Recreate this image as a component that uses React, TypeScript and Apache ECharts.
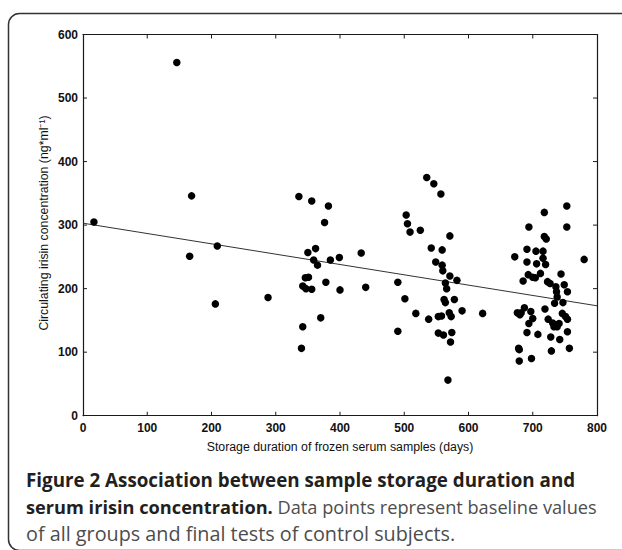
import React, { useEffect, useRef } from "react";
import * as echarts from "echarts";

// Storage duration (days) vs circulating irisin (ng*ml^-1)
const earlySamples: [number, number][] = [
  [17, 305], [146, 556], [166, 251], [169, 346], [206, 176], [209, 267], [288, 186],
];

const midSamples: [number, number][] = [
  [336, 345], [340, 106], [342, 140], [342, 204], [346, 217], [347, 200], [350, 257],
  [351, 218], [356, 338], [356, 199], [359, 245], [362, 263], [365, 237], [370, 154],
  [376, 304], [378, 210], [382, 330], [385, 245], [399, 249], [400, 198], [433, 256],
  [440, 202],
];

const lateSamples: [number, number][] = [
  [490, 210], [490, 133], [501, 184], [503, 316], [505, 302], [509, 289], [518, 161],
  [525, 292], [535, 375], [538, 152], [542, 264], [546, 365], [549, 242], [553, 156],
  [553, 130], [557, 349], [558, 157], [559, 261], [559, 237], [560, 228], [561, 127],
  [562, 183], [564, 209], [564, 178], [566, 200], [568, 56], [570, 162], [571, 283],
  [571, 220], [572, 116], [573, 156], [574, 131], [578, 183], [582, 213], [590, 165],
  [622, 161],
];

const finalSamples: [number, number][] = [
  [672, 250], [676, 162], [678, 106], [679, 86], [679, 104], [680, 159], [682, 162],
  [685, 212], [687, 170], [691, 262], [691, 242], [691, 131], [693, 222], [694, 297],
  [694, 145], [697, 164], [698, 90], [700, 218], [700, 153], [704, 217], [705, 259],
  [706, 239], [708, 128], [712, 224], [716, 259], [716, 248], [718, 320], [718, 282],
  [719, 168], [720, 238], [721, 278], [723, 211], [724, 152], [727, 208], [728, 124],
  [729, 102], [731, 146], [733, 140], [734, 177], [736, 203], [736, 143], [737, 195],
  [738, 187], [738, 140], [741, 145], [742, 120], [744, 223], [746, 161], [747, 178],
  [749, 206], [751, 156], [753, 330], [753, 297], [754, 195], [754, 152], [754, 132],
  [757, 106], [780, 246],
];

const regressionLine: [number, number][] = [
  [0, 303],
  [800, 173],
];

const xRange = [0, 800];
const yRange = [0, 600];
const xStep = 100;
const yStep = 100;
const xInnerTicks = [100, 200, 300, 400, 500, 600, 700];
const yInnerTicks = [100, 200, 300, 400, 500];

const xTitle = "Storage duration of frozen serum samples (days)";
const yTitle = "Circulating irisin concentration (ng*ml\u207B\u00B9)";
const captionBold1 = "Figure 2 Association between sample storage duration and";
const captionBold2 = "serum irisin concentration.";
const captionRegular2 = "Data points represent baseline values";
const captionRegular3 = "of all groups and final tests of control subjects.";

const AXIS_FONT = '"Liberation Sans", Arial, sans-serif';
const CAPTION_FONT = '"Open Sans", "Noto Sans", sans-serif';

export default function App() {
  const ref = useRef<HTMLDivElement | null>(null);

  useEffect(() => {
    if (!ref.current) return;
    const chart = echarts.init(ref.current, undefined, { renderer: "svg" });
    const allPoints = [...earlySamples, ...midSamples, ...lateSamples, ...finalSamples];

    const makeAxis = () => ({
      type: "value" as const,
      axisLine: { show: true, onZero: false, lineStyle: { color: "#1a1a1a", width: 1.2 } },
      axisTick: { show: false },
      splitLine: { show: false },
    });

    const tickSeries = (data: [number, number][], size: number[], offset: number[]) => ({
      type: "scatter",
      xAxisIndex: 0,
      yAxisIndex: 0,
      data,
      symbol: "rect",
      symbolSize: size,
      symbolOffset: offset,
      itemStyle: { color: "#1a1a1a", opacity: 1 },
      silent: true,
      clip: false,
      z: 4,
    });

    chart.setOption({
      animation: false,
      backgroundColor: "#fff",
      grid: { left: 83, right: 25, top: 34.5, bottom: 134.3, containLabel: false },
      xAxis: [
        {
          ...makeAxis(),
          position: "bottom",
          min: xRange[0],
          max: xRange[1],
          interval: xStep,
          axisLabel: {
            show: true,
            margin: 6,
            color: "#111",
            fontFamily: AXIS_FONT,
            fontWeight: "bold",
            fontSize: 12,
          },
        },
        {
          ...makeAxis(),
          position: "top",
          min: xRange[0],
          max: xRange[1],
          interval: xStep,
          axisLabel: { show: false },
        },
      ],
      yAxis: [
        {
          ...makeAxis(),
          position: "left",
          min: yRange[0],
          max: yRange[1],
          interval: yStep,
          axisLabel: {
            show: true,
            margin: 5,
            color: "#111",
            fontFamily: AXIS_FONT,
            fontWeight: "bold",
            fontSize: 12,
          },
        },
        {
          ...makeAxis(),
          position: "right",
          min: yRange[0],
          max: yRange[1],
          interval: yStep,
          axisLabel: { show: false },
        },
      ],
      series: [
        {
          type: "scatter",
          xAxisIndex: 0,
          yAxisIndex: 0,
          data: allPoints,
          symbol: "circle",
          symbolSize: 7.5,
          itemStyle: { color: "#000", opacity: 1 },
          z: 3,
        },
        {
          type: "line",
          xAxisIndex: 0,
          yAxisIndex: 0,
          data: regressionLine,
          symbol: "none",
          lineStyle: { color: "#333", width: 1 },
          z: 2,
        },
        tickSeries(xInnerTicks.map((v) => [v, yRange[0]] as [number, number]), [1, 4], [0, -2]),
        tickSeries(xInnerTicks.map((v) => [v, yRange[1]] as [number, number]), [1, 4], [0, 2]),
        tickSeries(yInnerTicks.map((v) => [xRange[0], v] as [number, number]), [4, 1], [2, 0]),
        tickSeries(yInnerTicks.map((v) => [xRange[1], v] as [number, number]), [4, 1], [-2, 0]),
      ],
      graphic: [
        {
          type: "rect",
          shape: { x: 8.5, y: 13.5, width: 660, height: 537, r: 11 },
          style: { fill: "none", stroke: "#333", lineWidth: 1.5 },
          silent: true,
          z: 10,
        },
        {
          type: "text",
          x: 340,
          y: 447,
          style: {
            text: xTitle,
            fontFamily: AXIS_FONT,
            fontSize: 12.3,
            fill: "#111",
            align: "center",
            verticalAlign: "middle",
          },
        },
        {
          type: "text",
          x: 43.5,
          y: 223,
          rotation: Math.PI / 2,
          style: {
            text: yTitle,
            fontFamily: AXIS_FONT,
            fontSize: 12.3,
            fill: "#111",
            align: "center",
            verticalAlign: "middle",
          },
        },
        {
          type: "text",
          x: 26,
          y: 480,
          style: {
            text: captionBold1,
            fontFamily: CAPTION_FONT,
            fontSize: 18.8,
            fontWeight: "bold",
            fill: "#231f20",
            align: "left",
            verticalAlign: "middle",
          },
        },
        {
          type: "text",
          x: 26,
          y: 507,
          style: {
            text: "{b|" + captionBold2 + "} {r|" + captionRegular2 + "}",
            fontFamily: CAPTION_FONT,
            fontSize: 18.2,
            align: "left",
            verticalAlign: "middle",
            rich: {
              b: { fontFamily: CAPTION_FONT, fontSize: 18.2, fontWeight: "bold", fill: "#231f20" },
              r: { fontFamily: CAPTION_FONT, fontSize: 18.2, fontWeight: "normal", fill: "#4d4d4d" },
            },
          },
        },
        {
          type: "text",
          x: 26,
          y: 533,
          style: {
            text: captionRegular3,
            fontFamily: CAPTION_FONT,
            fontSize: 19.8,
            fontWeight: "normal",
            fill: "#4d4d4d",
            align: "left",
            verticalAlign: "middle",
          },
        },
      ],
    });

    return () => chart.dispose();
  }, []);

  return (
    <div
      ref={ref}
      style={{ position: "absolute", left: 0, top: 0, width: 622, height: 550 }}
    />
  );
}
